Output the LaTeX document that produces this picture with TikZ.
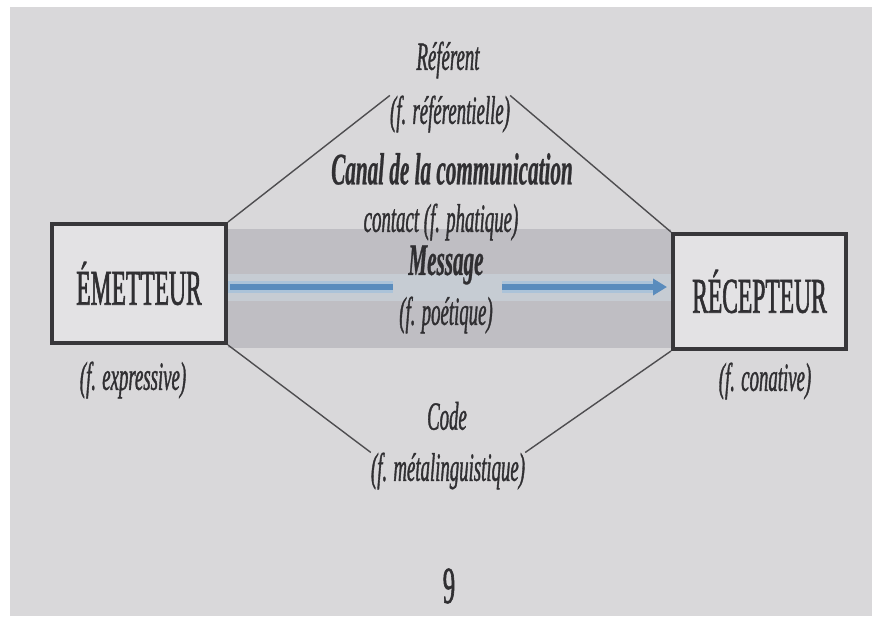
\documentclass[tikz,border=0pt]{standalone}
\usepackage{fontspec}
\newfontfamily\cf{Liberation Serif}[FakeStretch=0.47,
  UprightFeatures={FakeBold=1.2}, ItalicFeatures={FakeBold=0.9},
  BoldItalicFeatures={FakeBold=0.6}]
\usetikzlibrary{arrows.meta}
\definecolor{page}{HTML}{D9D8DA}
\definecolor{band}{HTML}{BFBEC3}
\definecolor{halo}{HTML}{C6CCD3}
\definecolor{boxc}{HTML}{38373A}
\definecolor{boxfill}{HTML}{E3E2E4}
\definecolor{txt}{HTML}{302F32}
\definecolor{linec}{HTML}{4E4D50}
\definecolor{blue}{HTML}{5A8CBD}
\definecolor{bluehalo}{HTML}{ABC3D9}
\tikzset{
  box/.style={draw=boxc, line width=4pt, fill=boxfill, inner sep=0pt, text=txt,
              font=\cf\fontsize{50}{50}\selectfont},
  lab/.style={inner sep=0pt, text=txt, font=\cf\itshape\fontsize{40}{40}\selectfont},
  blab/.style={inner sep=0pt, text=txt, font=\cf\bfseries\itshape\fontsize{45}{45}\selectfont},
  numlab/.style={inner sep=0pt, text=txt, font=\cf\fontsize{52}{52}\selectfont},
  link/.style={draw=linec, line width=1.4pt},
  haloline/.style={draw=bluehalo, line width=12pt},
  msgline/.style={draw=blue, line width=6.5pt},
}
\begin{document}
\begin{tikzpicture}[x=1pt,y=-1pt]
\useasboundingbox (0,0) rectangle (872,616);
\fill[white] (0,0) rectangle (872,616);
\fill[page] (10,7) rectangle (872,616);
% channel band
\fill[band] (228,229) rectangle (671,348);
\fill[halo] (228,274) rectangle (671,301);
% boxes
\node[box, minimum width=174pt, minimum height=119pt] (emet) at (139,283.5) {ÉMETTEUR};
\node[box, minimum width=173pt, minimum height=115pt] (recep) at (759.5,291.5) {RÉCEPTEUR};
% labels
\node[lab] (ref1) at (448,60) {Référent};
\node[lab] (ref2) at (450,114) {(f. référentielle)};
\node[blab] (canal) at (452,169) {Canal de la communication};
\node[lab] (contact) at (441,222) {contact (f. phatique)};
\node[blab] (msg) at (446,265) {Message};
\node[lab] (poet) at (446,315) {(f. poétique)};
\node[lab] (expr) at (133,380) {(f. expressive)};
\node[lab] (conat) at (765,381) {(f. conative)};
\node[lab] (code) at (447,416) {Code};
\node[lab] (meta) at (448,471) {(f. métalinguistique)};
\node[numlab] (nine) at (449,586) {9};
% connectors
\draw[link] (emet.north east) -- (ref2.north west);
\draw[link] (ref2.north east) -- (recep.north west);
\draw[link] (emet.south east) -- (meta.north west);
\draw[link] (meta.north east) -- (recep.south west);
% message arrow
\coordinate (gl) at (393,287);
\coordinate (gr) at (502,287);
\draw[haloline] (emet.east |- gl) -- (gl);
\draw[haloline] (gr) -- ([xshift=-14pt]recep.west |- gr);
\draw[msgline] ([xshift=2pt]emet.east |- gl) -- (gl);
\draw[msgline, -{Triangle[length=14pt,width=16pt]}, shorten >=4pt] (gr) -- (recep.west |- gr);
\end{tikzpicture}
\end{document}
